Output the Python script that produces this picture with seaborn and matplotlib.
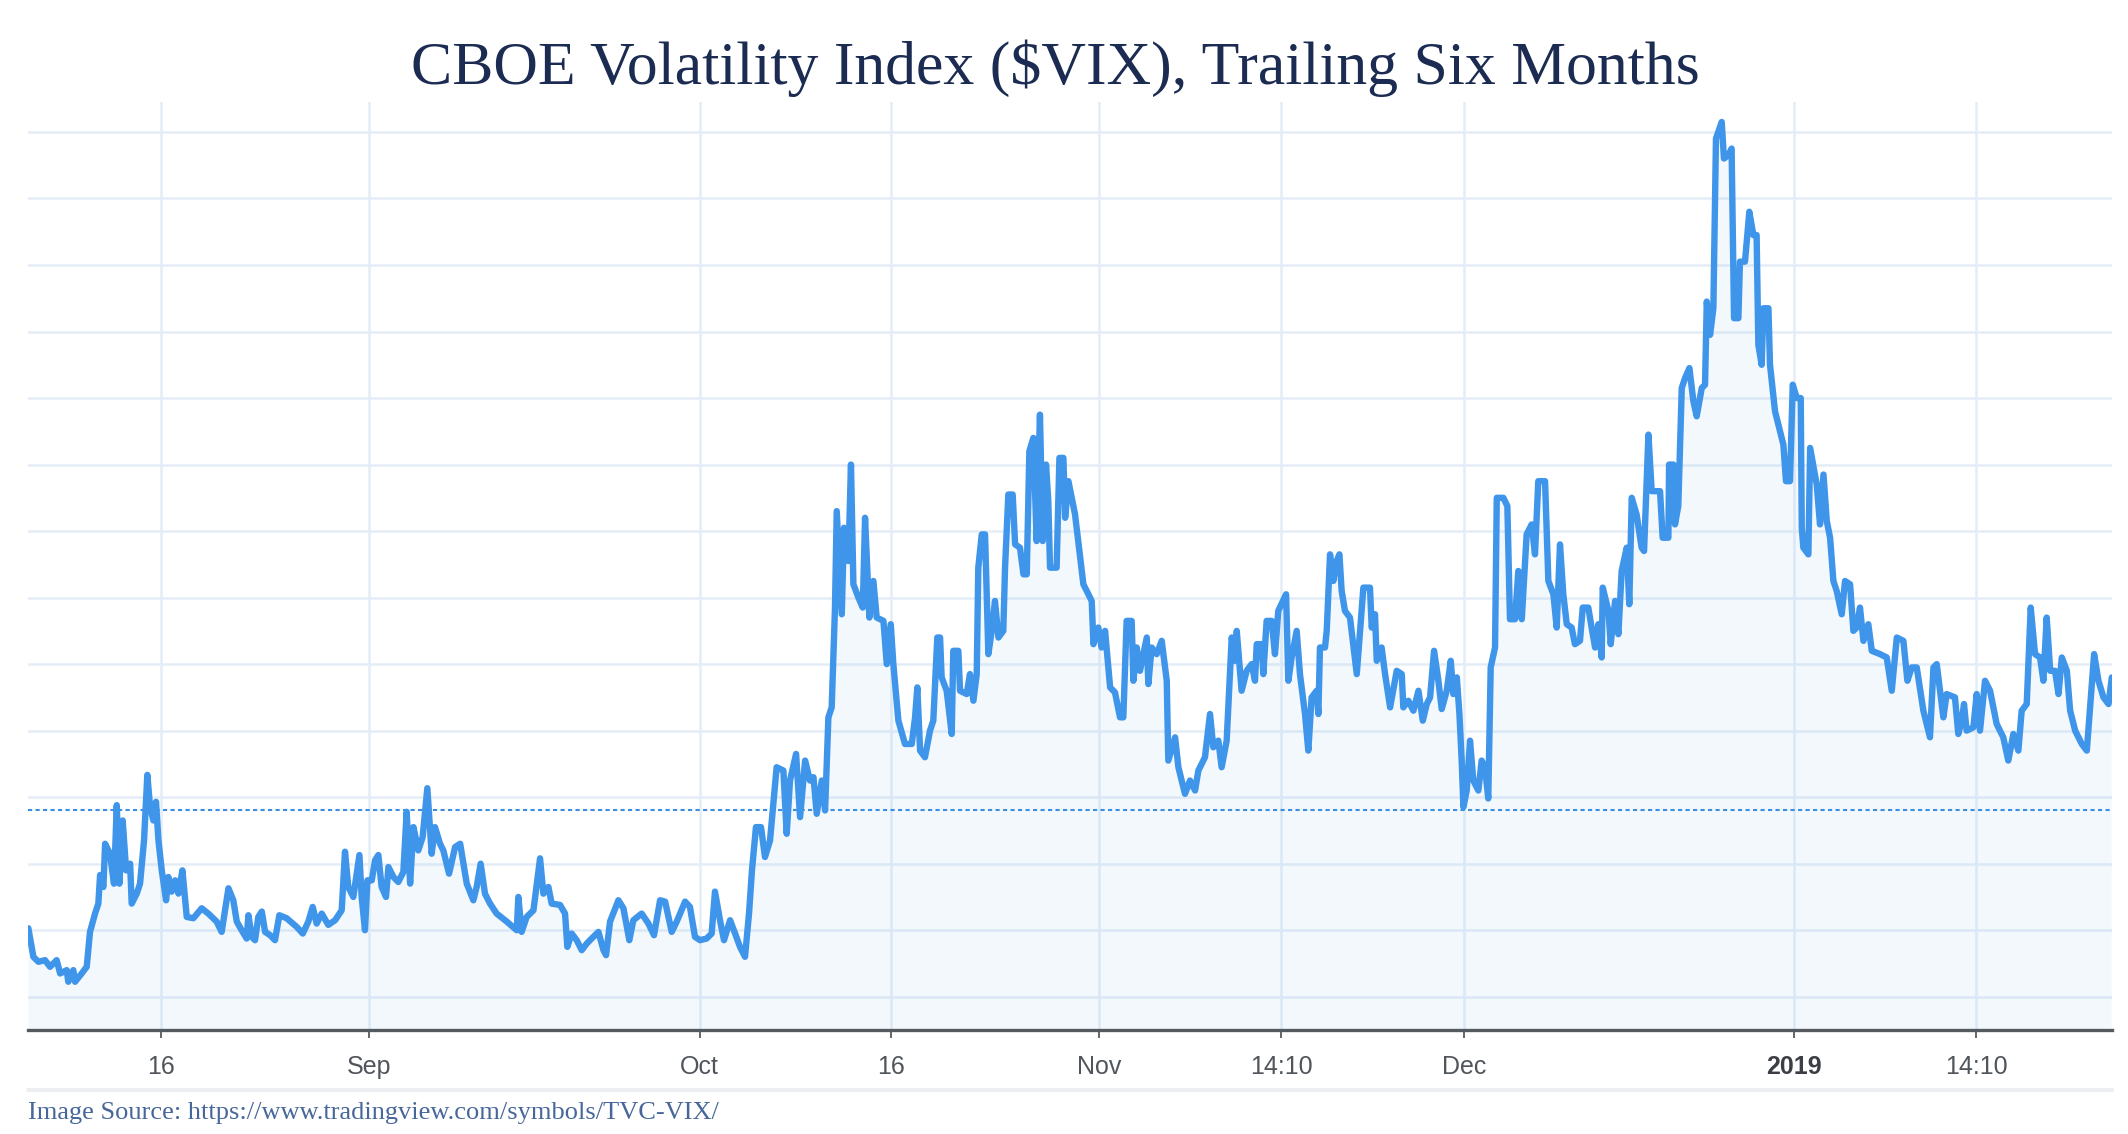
import numpy as np
import pandas as pd
import seaborn as sns
import matplotlib.pyplot as plt
from matplotlib.lines import Line2D

# x = trading days counted from Aug 16 2018, y = VIX level
day = [
    -7.64, -7.35, -7.06, -6.68, -6.39, -6.01, -5.81, -5.43, -5.34, -5.05, -4.95, -4.57,
    -4.28, -4.09, -3.80, -3.61, -3.51, -3.32, -3.22, -2.94, -2.71, -2.55, -2.40, -2.21,
    -2.01, -1.78, -1.69, -1.40, -1.21, -0.98, -0.79, -0.63, -0.44, -0.29, -0.15, 0.04,
    0.29, 0.42, 0.61, 0.81, 1.00, 1.23, 1.48, 1.86, 2.34, 2.72, 3.20, 3.49, 3.88, 4.16,
    4.36, 4.64, 4.93, 5.03, 5.22, 5.41, 5.60, 5.80, 5.99, 6.28, 6.56, 6.81, 7.23, 7.81,
    8.16, 8.48, 8.73, 8.96, 9.25, 9.63, 10.02, 10.40, 10.59, 10.78, 11.07, 11.42, 11.55,
    11.74, 11.88, 12.13, 12.32,
    12.51, 12.70, 12.95, 13.09, 13.38, 13.66, 13.95, 14.14, 14.34, 14.53, 14.81, 15.06,
    15.33, 15.58, 15.77, 16.06, 16.25, 16.58, 16.93, 17.22, 17.60, 17.98, 18.17, 18.40,
    18.65, 18.94, 19.32, 19.90, 20.48, 20.57, 20.76, 21.05, 21.44, 21.82, 22.01, 22.30,
    22.49, 22.97, 23.26, 23.39, 23.64, 23.93, 24.22, 24.51, 24.79, 25.18, 25.47, 25.62,
    25.85, 26.33, 26.62, 26.96, 27.19, 27.67, 28.06, 28.38, 28.73, 29.02, 29.40, 29.69,
    30.17, 30.45, 30.74, 31.03, 31.41, 31.70, 31.89, 32.18, 32.41, 32.76,
    33.05, 33.33, 33.62, 33.85, 34.02, 34.25, 34.54, 34.77, 35.06,
    35.44, 35.83, 36.02, 36.21, 36.56, 36.79, 37.08, 37.36, 37.56, 37.75, 38.04, 38.23,
    38.42, 38.61, 38.80, 38.90, 39.19, 39.32, 39.57, 39.72, 39.86, 40.15, 40.40, 40.53,
    40.78, 41.01, 41.20, 41.59, 41.78, 42.01, 42.16, 42.45, 42.83, 43.22, 43.41, 43.54,
    43.70, 43.98, 44.27, 44.46, 44.69, 44.85, 44.94, 45.23, 45.52, 45.61, 45.90, 46.00,
    46.38, 46.57, 46.77, 46.96, 47.05, 47.25, 47.44, 47.63, 47.82, 48.01, 48.21, 48.49,
    48.59, 48.78, 49.03, 49.17, 49.45, 49.65, 49.84, 49.99, 50.22, 50.41, 50.60, 50.76,
    50.95, 51.08, 51.18, 51.56, 51.72, 51.95, 52.05, 52.24,
    52.62, 53.10, 53.58, 53.68, 53.96, 54.15, 54.35, 54.64, 54.92, 55.21, 55.40, 55.59,
    55.88, 55.98, 56.17, 56.36, 56.75, 56.84, 57.03, 57.32, 57.61, 57.90, 57.99, 58.38,
    58.57, 58.95, 59.24, 59.53, 59.72, 60.10, 60.39, 60.58, 60.87, 61.06, 61.35, 61.64,
    61.83, 61.93, 62.21, 62.50, 62.79, 62.98, 63.08, 63.36, 63.46, 63.65, 63.94, 64.13,
    64.32, 64.77, 64.90, 65.09, 65.38, 65.57, 65.86, 66.05, 66.24, 66.53, 66.63, 66.72,
    67.01, 67.11, 67.30, 67.49, 67.68, 67.84, 67.97, 68.16, 68.45, 68.84, 69.22, 69.60,
    69.70, 69.89, 69.99, 70.27, 70.47, 70.76, 71.14, 71.43, 71.52, 71.81, 72.10, 72.39,
    72.64, 72.87, 73.06,
    73.29, 73.54, 73.73, 74.02, 74.25, 74.40, 74.60, 74.75, 74.88, 74.98, 75.17, 75.36,
    75.55, 75.84, 76.03, 76.22, 76.41, 76.55, 76.80, 76.90, 77.28, 77.51, 77.66, 77.95,
    78.14, 78.34, 78.62, 78.91, 79.10, 79.29, 79.68, 79.87, 80.16, 80.35, 80.54, 80.73,
    80.93, 81.21, 81.40, 81.69, 81.85, 82.17, 82.36, 82.56, 82.75, 82.94, 83.00, 83.33,
    83.46, 83.71, 83.90, 84.09, 84.38, 84.53, 84.67, 84.95, 85.24, 85.38, 85.63, 85.82,
    86.30, 86.45, 86.78, 86.82, 87.07, 87.16, 87.35, 87.55, 87.74, 87.99, 88.22, 88.41,
    88.70, 88.89, 88.99, 89.18, 89.37, 89.52, 89.85, 89.98, 90.23, 90.42, 90.56, 90.81,
    90.90, 91.19, 91.44, 91.67, 91.86, 91.96, 92.15, 92.25, 92.54, 92.63,
    92.92, 93.11, 93.40, 93.55, 93.78, 93.94, 94.17, 94.40, 94.46, 94.55, 94.84, 94.94,
    95.13, 95.32, 95.51, 95.71, 95.90, 96.09, 96.28, 96.47, 96.76, 96.95, 97.24, 97.43,
    97.62, 97.81, 98.01, 98.29, 98.49, 98.97, 99.35, 99.64, 99.93, 100.31, 100.54, 100.79,
    101.08, 101.46, 101.84, 102.04, 102.23, 102.61, 102.80, 103.28, 103.47, 103.67,
    103.80, 103.95, 104.34, 104.53, 104.72, 105.01, 105.30, 105.68, 106.06, 106.35,
    106.64, 106.93, 107.12, 107.41, 107.64, 107.89, 108.18, 108.37, 108.56, 108.76,
    109.04, 109.24, 109.43, 109.72, 109.91, 110.20, 110.58, 110.87, 111.06, 111.29,
    111.54, 111.83, 112.12, 112.31,
]
vix = [
    12.06, 11.2, 11.05, 11.1, 10.9, 11.1, 10.7, 10.8, 10.45, 10.8, 10.45, 10.7,
    10.9, 11.95, 12.5, 12.8, 13.66, 13.3, 14.6, 14.3, 13.4, 15.76, 13.4, 15.3,
    13.8, 14.0, 12.8, 13.1, 13.4, 14.7, 16.67, 15.7, 15.3, 15.86, 14.7, 13.8,
    12.9, 13.6, 13.16, 13.5, 13.1, 13.8, 12.4, 12.36, 12.66, 12.5, 12.26, 11.95, 13.26, 12.9,
    12.26, 12.0, 11.75, 12.45, 11.8, 11.7, 12.4, 12.56, 11.95, 11.85, 11.7, 12.45, 12.36, 12.1,
    11.9, 12.26, 12.7, 12.2, 12.5, 12.16, 12.3, 12.6, 14.36, 13.3, 13.0, 14.26, 13.0,
    12.0, 13.5, 13.5, 14.1,
    14.26, 13.3, 13.0, 13.9, 13.6, 13.45, 13.75, 15.56, 13.4, 15.1, 14.4, 14.8,
    16.27, 14.3, 15.1, 14.6, 14.4, 13.7, 14.5, 14.6, 13.4, 12.9, 13.3, 14.0,
    13.1, 12.8, 12.5, 12.26, 12.0, 13.0, 11.95, 12.4, 12.6, 14.16, 13.1, 13.3,
    12.8, 12.76, 12.5, 11.5, 11.9, 11.7, 11.4, 11.6, 11.75, 11.95, 11.4, 11.25,
    12.26, 12.9, 12.66, 11.7, 12.3, 12.5, 12.2, 11.85, 12.9, 12.86, 11.95, 12.26,
    12.86, 12.7, 11.8, 11.7, 11.75, 11.9, 13.16, 12.3, 11.7, 12.3,
    11.9, 11.5, 11.2, 12.5, 13.8, 15.1, 15.1, 14.2, 14.7,
    16.9, 16.8, 14.9, 16.5, 17.3, 15.4, 17.1, 16.5, 16.6, 15.5, 16.5, 15.6,
    18.4, 18.7, 21.7, 24.6, 21.5, 24.1, 23.1, 26.0, 22.4, 22.0, 21.7, 24.4,
    21.4, 22.5, 21.4, 21.3, 20.0, 21.2, 20.0, 18.3, 17.6, 17.6, 18.4, 19.3,
    17.4, 17.2, 18.0, 18.3, 20.8, 20.8, 19.6, 19.2, 17.9, 20.4, 20.4, 19.2,
    19.1, 19.7, 18.9, 19.7, 22.9, 23.9, 23.9, 20.3, 21.0, 21.9, 20.8, 21.0,
    22.9, 25.1, 25.1, 23.6, 23.5, 22.7, 22.7, 26.4, 26.8, 23.7, 27.5, 23.7,
    26.0, 24.9, 22.9, 22.9, 26.2, 26.2, 24.4, 25.5,
    24.5, 22.4, 21.9, 20.6, 21.1, 20.5, 21.0, 19.3, 19.15, 18.4, 18.4, 21.3,
    21.3, 19.5, 20.5, 19.8, 20.8, 19.4, 20.5, 20.3, 20.7, 19.5, 17.1, 17.8,
    16.9, 16.1, 16.5, 16.2, 16.8, 17.2, 18.5, 17.5, 17.7, 16.9, 17.7, 20.8,
    20.1, 21.0, 19.2, 19.8, 20.0, 19.5, 20.6, 20.6, 19.7, 21.3, 21.3, 20.3,
    21.6, 22.1, 19.5, 20.2, 21.0, 19.7, 18.5, 17.4, 19.0, 19.2, 18.5, 20.5,
    20.5, 21.0, 23.3, 22.5, 23.1, 23.3, 22.2, 21.6, 21.4, 19.7, 22.3, 22.3,
    21.1, 21.5, 20.1, 20.5, 19.7, 18.7, 19.8, 19.7, 18.7, 18.9, 18.6, 19.2,
    18.3, 18.8, 19.0,
    20.4, 19.5, 18.65, 19.2, 20.1, 19.1, 19.6, 18.5, 17.1, 15.7, 16.2, 17.7,
    16.5, 16.2, 17.1, 16.9, 15.96, 19.9, 20.5, 25.0, 25.0, 24.75, 21.35, 21.35,
    22.8, 21.35, 23.9, 24.2, 23.3, 25.5, 25.5, 22.5, 22.1, 21.1, 23.6, 22.1,
    21.2, 21.1, 20.6, 20.7, 21.7, 21.7, 21.1, 20.5, 21.2, 20.2, 22.3, 21.6,
    20.6, 21.9, 20.9, 22.8, 23.5, 21.8, 25.0, 24.5, 23.5, 23.4, 26.9, 25.2,
    25.2, 23.8, 23.8, 26.0, 26.0, 24.2, 24.75, 28.3, 28.6, 28.9, 27.9, 27.45,
    28.3, 28.4, 30.9, 29.9, 30.7, 35.8, 36.3, 35.2, 35.3, 35.5, 30.4, 30.4,
    32.1, 32.1, 33.6, 32.9, 32.9, 29.6, 29.0, 30.7, 30.7, 29.0,
    27.6, 27.2, 26.6, 25.5, 25.5, 28.4, 28.0, 28.0, 24.1, 23.5, 23.3, 26.5,
    25.95, 25.4, 24.2, 25.7, 24.3, 23.8, 22.5, 22.2, 21.5, 22.5, 22.4, 21.0,
    21.1, 21.7, 20.7, 21.2, 20.4, 20.3, 20.2, 19.2, 20.8, 20.7, 19.5, 19.9,
    19.9, 18.6, 17.8, 19.9, 20.0, 18.4, 19.1, 19.0, 17.9, 18.3,
    18.8, 18.0, 18.1, 19.1, 18.0, 19.5, 19.2, 18.2, 17.8, 17.1,
    17.9, 17.4, 18.6, 18.8, 21.7, 20.3, 20.2, 19.5, 21.4, 19.8,
    19.8, 19.1, 20.2, 19.8, 18.6, 18.0, 17.6, 17.4, 18.7, 20.3,
    19.5, 19.0, 18.8, 19.6,
]

ref_level = 15.6  # dotted reference line
grid_levels = list(range(10, 37, 2))
tick_pos = [0, 12, 31, 42, 54, 64.5, 75, 94, 104.5]
tick_lab = ["16", "Sep", "Oct", "16", "Nov", "14:10", "Dec", "2019", "14:10"]

df = pd.DataFrame({"day": day, "vix": vix})

sns.set_theme(style="white")
plt.rcParams["font.family"] = ["Liberation Sans", "DejaVu Sans"]

line_col = "#3f95ea"
grid_col = "#e4edf6"

fig = plt.figure(figsize=(21.28, 11.34), dpi=100)
ax = fig.add_axes([28 / 2128, 1 - 1030 / 1134, 2084 / 2128, 928 / 1134])

ax.fill_between(df["day"], df["vix"], 0, color=line_col, alpha=0.06, lw=0, zorder=1)
sns.lineplot(data=df, x="day", y="vix", sort=False, estimator=None, ax=ax,
             color=line_col, linewidth=4.6, zorder=3)
ax.axhline(ref_level, color="#3b8ee2", lw=1.5, ls=(0, (2, 1.6)), zorder=2)

ax.set_xlim(-7.66, 112.32)
ax.set_ylim(9.0, 36.9)
ax.set_xlabel("")
ax.set_ylabel("")

ax.set_yticks(grid_levels)
ax.set_xticks(tick_pos)
ax.set_xticklabels(tick_lab)
ax.grid(True, color=grid_col, linewidth=1.8)
ax.set_axisbelow(True)
ax.tick_params(axis="y", length=0, labelleft=False)
ax.tick_params(axis="x", length=6, width=1.3, color="#555a61", labelsize=18,
               labelcolor="#50555c", pad=12, bottom=True)
for lab in ax.get_xticklabels():
    if lab.get_text() == "2019":
        lab.set_fontweight("bold")
        lab.set_color("#3b3f45")

for side in ["left", "top", "right"]:
    ax.spines[side].set_visible(False)
ax.spines["bottom"].set_color("#555a61")
ax.spines["bottom"].set_linewidth(2.4)

# light rule under the tick labels
fig.add_artist(Line2D([28 / 2128, 2112 / 2128], [1 - 1090 / 1134] * 2,
                      transform=fig.transFigure, color="#eceef1", lw=3))

fig.text(0.4958, 1 - 84 / 1134, "CBOE Volatility Index ($VIX), Trailing Six Months",
         ha="center", va="baseline", fontsize=44.5, family="Liberation Serif",
         color="#1b2b52")
fig.text(28 / 2128, 1 - 1113 / 1134,
         "Image Source: https://www.tradingview.com/symbols/TVC-VIX/",
         ha="left", va="center", fontsize=19, family="Liberation Serif",
         color="#47679a")

fig.savefig("out.png", dpi=100)
